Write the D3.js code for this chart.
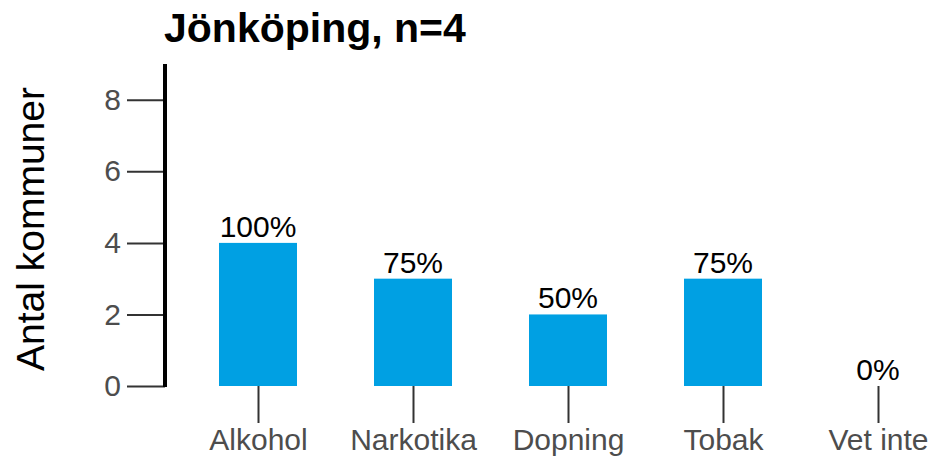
<!DOCTYPE html>
<html>
<head>
<meta charset="utf-8">
<script src="https://cdn.jsdelivr.net/npm/d3@7"></script>
<style>
  html, body { margin: 0; padding: 0; background: #ffffff; }
  svg { display: block; font-family: "Liberation Sans", Arial, sans-serif; }
</style>
</head>
<body>
<svg id="chart" width="934" height="464"></svg>
<script>
// Substances reported by municipalities in Jönköping
const region = "Jönköping";
const n = 4;
const categories = ["Alkohol", "Narkotika", "Dopning", "Tobak", "Vet inte"];
const counts = [4, 3, 2, 3, 0];
const yTicks = [0, 2, 4, 6, 8];
const yTitle = "Antal kommuner";

const svg = d3.select("#chart");

const x = d3.scalePoint().domain(categories).range([258, 878]);
const barWidth = 78;
const y = d3.scaleLinear().domain([0, 9]).range([386, 64]);

// Title
svg.append("text")
  .attr("x", 164).attr("y", 42)
  .attr("font-size", 41).attr("font-weight", "bold").attr("fill", "#000")
  .text(`${region}, n=${n}`);

// Y axis title
svg.append("text")
  .attr("transform", `translate(44,229) rotate(-90)`)
  .attr("text-anchor", "middle")
  .attr("font-size", 39).attr("fill", "#000")
  .text(yTitle);

// Bars
svg.append("g").selectAll("rect")
  .data(categories)
  .join("rect")
  .attr("x", (d) => x(d) - barWidth / 2)
  .attr("width", barWidth)
  .attr("y", (d, i) => y(counts[i]))
  .attr("height", (d, i) => y(0) - y(counts[i]))
  .attr("fill", "#00A0E3");

// Value labels as share of municipalities
svg.append("g").selectAll("text")
  .data(categories)
  .join("text")
  .attr("x", (d) => x(d))
  .attr("y", (d, i) => y(counts[i]) - 6)
  .attr("text-anchor", "middle")
  .attr("font-size", 30).attr("fill", "#000")
  .text((d, i) => `${Math.round(counts[i] / n * 100)}%`);

// Y axis
const yAxis = svg.append("g")
  .attr("transform", "translate(165,0)")
  .call(d3.axisLeft(y).tickValues(yTicks).tickSize(38).tickPadding(6).tickFormat(d3.format("d")));
yAxis.select(".domain").remove();
yAxis.selectAll(".tick line").attr("stroke", "#333").attr("stroke-width", 2);
yAxis.selectAll(".tick text").attr("fill", "#4D4D4D").attr("font-size", 30)
  .attr("font-family", "Liberation Sans, Arial, sans-serif");
svg.append("line")
  .attr("x1", 165).attr("x2", 165)
  .attr("y1", y(9)).attr("y2", y(0) + 1)
  .attr("stroke", "#000").attr("stroke-width", 4);

// X axis
const xAxis = svg.append("g")
  .attr("transform", `translate(0,${y(0)})`)
  .call(d3.axisBottom(x).tickSize(37).tickPadding(6));
xAxis.select(".domain").remove();
xAxis.selectAll(".tick line").attr("stroke", "#333").attr("stroke-width", 2);
xAxis.selectAll(".tick text").attr("fill", "#4D4D4D").attr("font-size", 30)
  .attr("font-family", "Liberation Sans, Arial, sans-serif");
</script>
</body>
</html>
